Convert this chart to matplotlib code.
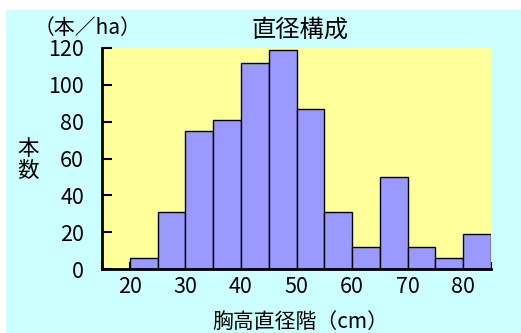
import matplotlib
matplotlib.use("Agg")
import matplotlib.pyplot as plt
from matplotlib.patches import Rectangle
import numpy as np

plt.rcParams['font.family'] = ['Noto Sans CJK JP', 'DejaVu Sans']

# Diameter classes (lower bound of each 5 cm class) and stems per ha
class_lower = [15, 20, 25, 30, 35, 40, 45, 50, 55, 60, 65, 70, 75, 80]
stems_per_ha = [0, 6, 31, 75, 81, 112, 119, 87, 31, 12, 50, 12, 6, 19]
x_tick_labels = [20, 30, 40, 50, 60, 70, 80]
y_tick_labels = [0, 20, 40, 60, 80, 100, 120]
class_width = 5

W, H = 521, 333
fig = plt.figure(figsize=(W / 100, H / 100), dpi=100)
fig.patch.set_facecolor('white')

# Light cyan panel behind the chart
panel = Rectangle((6 / W, 0), 1 - 6 / W, 1 - 10 / H,
                  transform=fig.transFigure, facecolor='#CCFFFF',
                  edgecolor='none', zorder=-5)
fig.add_artist(panel)

ax = fig.add_axes([102 / W, 1 - 269 / H, (491 - 102) / W, (269 - 48) / H])
ax.set_zorder(1)
ax.set_facecolor('#FFFF99')

ax.bar(class_lower, stems_per_ha, width=class_width, align='edge',
       color='#9999FF', edgecolor='black', linewidth=1.0, zorder=2)

ax.set_xlim(15, 85)
ax.set_ylim(0, 120)

ax.set_yticks(y_tick_labels)
ax.set_yticklabels([str(v) for v in y_tick_labels], fontsize=15.5)
ax.set_xticks(x_tick_labels)
ax.set_xticklabels([str(v) for v in x_tick_labels], fontsize=15.5)
ax.set_xticks(np.arange(15, 86, 5), minor=True)

ax.tick_params(axis='y', direction='in', length=7, width=1.5, pad=13)
ax.tick_params(axis='x', which='both', direction='in', length=5, width=1.5, pad=5)

for side in ('top', 'right'):
    ax.spines[side].set_visible(False)
for side in ('left', 'bottom'):
    ax.spines[side].set_linewidth(2.0)
    ax.spines[side].set_zorder(3)

fig.text(300 / W, 1 - 30 / H, '直径構成', ha='center', va='center', fontsize=17.5)
fig.text(87 / W, 1 - 28 / H, '（本／ha）', ha='center', va='center', fontsize=15)
fig.text(28 / W, 1 - 160 / H, '本\n数', ha='center', va='center', fontsize=15.5,
         linespacing=1.0)
fig.text(300 / W, 1 - 322 / H, '胸高直径階（cm）', ha='center', va='center', fontsize=15)

fig.savefig('out.png', dpi=100)
